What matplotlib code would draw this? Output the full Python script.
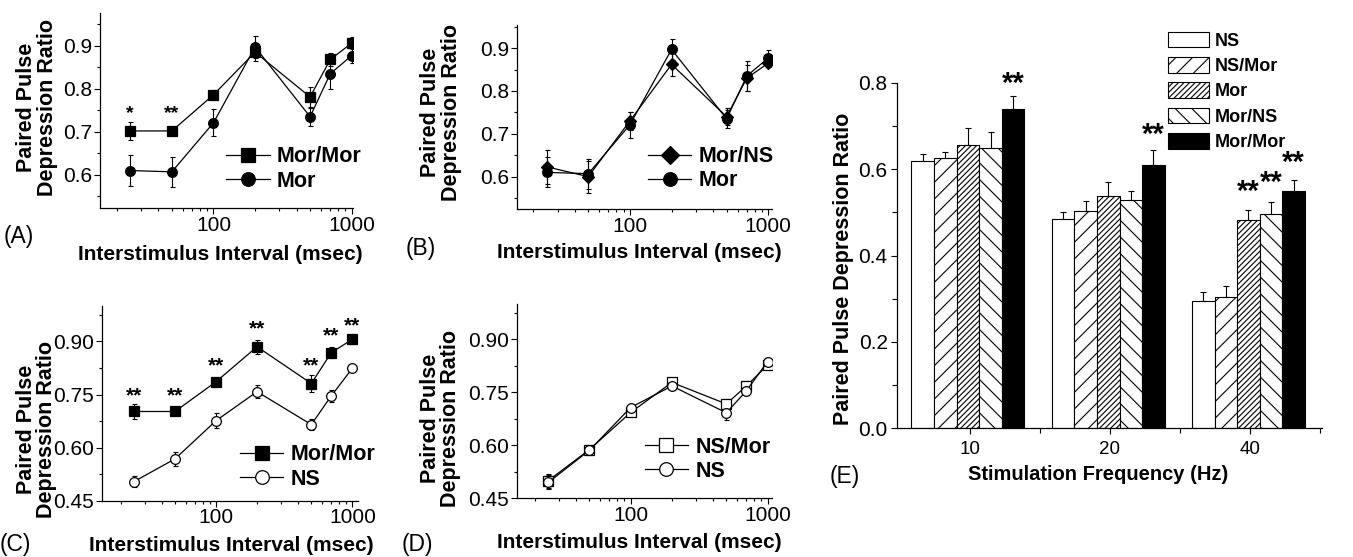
import matplotlib
matplotlib.use('Agg')
import matplotlib.pyplot as plt
import numpy as np
from matplotlib.ticker import MultipleLocator, LogLocator, NullFormatter, FormatStrFormatter, FixedLocator

plt.rcParams['font.family'] = ['Liberation Sans', 'DejaVu Sans']
plt.rcParams['hatch.linewidth'] = 0.8

# ---------------- data ----------------
isi = [25, 50, 100, 200, 500, 700, 1000]

morMor = [0.702, 0.702, 0.786, 0.885, 0.781, 0.868, 0.906]
morMor_err = [0.020, 0.006, 0.012, 0.020, 0.024, 0.015, 0.014]
mor = [0.610, 0.607, 0.721, 0.897, 0.735, 0.835, 0.877]
mor_err = [0.035, 0.035, 0.031, 0.025, 0.021, 0.035, 0.018]
morNS = [0.623, 0.600, 0.730, 0.862, 0.740, 0.830, 0.865]
morNS_err = [0.040, 0.037, 0.022, 0.027, 0.020, 0.030, 0.010]
ns_C = [0.504, 0.568, 0.676, 0.758, 0.665, 0.746, 0.824]
ns_C_err = [0.015, 0.020, 0.022, 0.018, 0.015, 0.018, 0.005]
nsMor_D = [0.500, 0.588, 0.693, 0.778, 0.717, 0.768, 0.827]
nsMor_D_err = [0.020, 0.013, 0.010, 0.012, 0.015, 0.015, 0.006]
ns_D = [0.495, 0.586, 0.707, 0.768, 0.692, 0.754, 0.837]
ns_D_err = [0.020, 0.013, 0.008, 0.012, 0.020, 0.012, 0.006]

sigA_x = [25, 50]
sigA_txt = ['*', '**']
sigA_y = [0.758, 0.758]
sigC_x = [25, 50, 100, 200, 500, 700, 1000]
sigC_txt = ['**'] * 7
sigC_y = [0.764, 0.764, 0.850, 0.954, 0.850, 0.933, 0.962]

freq_labels = ['10', '20', '40']
groups = ['NS', 'NS/Mor', 'Mor', 'Mor/NS', 'Mor/Mor']
E_vals = [
    [0.618, 0.484, 0.294],   # NS
    [0.626, 0.504, 0.304],   # NS/Mor
    [0.655, 0.537, 0.482],   # Mor
    [0.649, 0.528, 0.495],   # Mor/NS
    [0.738, 0.609, 0.549],   # Mor/Mor
]
E_errs = [
    [0.017, 0.016, 0.022],
    [0.014, 0.023, 0.025],
    [0.039, 0.032, 0.023],
    [0.038, 0.022, 0.030],
    [0.032, 0.035, 0.025],
]
sigE_group = [0, 1, 2, 2, 2]
sigE_bar = [4, 4, 2, 3, 4]
sigE_y = [0.818, 0.698, 0.567, 0.587, 0.635]

# ---------------- figure ----------------
W, H = 1353, 557
fig = plt.figure(figsize=(W / 100, H / 100), dpi=100)


def px_axes(left, top, right, bottom):
    return fig.add_axes([left / W, 1 - bottom / H, (right - left) / W, (bottom - top) / H])


TICK_FS = 15
LAB_FS = 15.5
XLAB_FS = 15


def style_line_axes(ax, ylim, major, fmt, xlim):
    ax.set_xscale('log')
    ax.set_xlim(*xlim)
    ax.set_ylim(*ylim)
    for s in ['top', 'right']:
        ax.spines[s].set_visible(False)
    for s in ['left', 'bottom']:
        ax.spines[s].set_linewidth(0.9)
    ax.xaxis.set_major_locator(FixedLocator([100, 1000]))
    ax.set_xticklabels(['100', '1000'])
    ax.xaxis.set_minor_locator(LogLocator(base=10, subs=np.arange(2, 10)))
    ax.xaxis.set_minor_formatter(NullFormatter())
    ax.yaxis.set_major_locator(MultipleLocator(major))
    ax.yaxis.set_minor_locator(MultipleLocator(major / 2))
    ax.yaxis.set_major_formatter(FormatStrFormatter(fmt))
    ax.tick_params(which='major', direction='out', length=4, width=0.8, labelsize=TICK_FS, pad=1.5)
    ax.tick_params(which='minor', direction='out', length=2.5, width=0.8)
    ax.set_xlabel('Interstimulus Interval (msec)', fontsize=XLAB_FS, fontweight='bold', va='center')
    ax.set_ylabel('Paired Pulse\nDepression Ratio', fontsize=LAB_FS, fontweight='bold',
                  va='center', linespacing=0.95)


def draw_series(ax, y, e, marker, mfc, label, ms=7):
    ax.errorbar(isi, y, yerr=e, fmt='none', ecolor='black', elinewidth=0.8,
                capsize=1.8, capthick=0.8, zorder=2)
    ax.plot(isi, y, color='black', lw=0.9, marker=marker, ms=ms, mfc=mfc, mec='black',
            mew=0.9, label=label, zorder=3)


def add_legend(ax, x, y):
    ax.legend(loc='center left', bbox_to_anchor=(x, y), frameon=False,
              prop=dict(weight='bold', size=LAB_FS), handlelength=2.0, handletextpad=0.35,
              labelspacing=0.15, borderpad=0, borderaxespad=0, markerscale=1.4)


def add_sig(ax, xs, ys, txts, fs):
    for xv, yv, t in zip(xs, ys, txts):
        ax.annotate(t, (xv, yv), xytext=(0, -0.57 * fs), textcoords='offset points',
                    ha='center', va='baseline', fontsize=fs, fontweight='bold',
                    annotation_clip=False)


# Panel A
axA = px_axes(100, 13, 353, 208)
draw_series(axA, morMor, morMor_err, 's', 'black', 'Mor/Mor')
draw_series(axA, mor, mor_err, 'o', 'black', 'Mor')
style_line_axes(axA, (0.523, 0.976), 0.1, '%.1f', (15.1, 1022))
add_legend(axA, 0.50, 0.20)
add_sig(axA, sigA_x, sigA_y, sigA_txt, 14)
axA.xaxis.set_label_coords(0.477, -0.241)
axA.yaxis.set_label_coords(-0.249, 0.515)

# Panel B
axB = px_axes(516.7, 25, 771.7, 209)
draw_series(axB, morNS, morNS_err, 'D', 'black', 'Mor/NS', ms=6.5)
draw_series(axB, mor, mor_err, 'o', 'black', 'Mor')
style_line_axes(axB, (0.5245, 0.954), 0.1, '%.1f', (15.2, 1059))
add_legend(axB, 0.515, 0.219)
axB.xaxis.set_label_coords(0.48, -0.239)
axB.yaxis.set_label_coords(-0.297, 0.527)

# Panel C
axC = px_axes(101.7, 306, 358, 500.7)
draw_series(axC, morMor, morMor_err, 's', 'black', 'Mor/Mor')
draw_series(axC, ns_C, ns_C_err, 'o', 'white', 'NS')
style_line_axes(axC, (0.45, 1.0), 0.15, '%.2f', (14.5, 1100))
add_legend(axC, 0.54, 0.173)
add_sig(axC, sigC_x, sigC_y, sigC_txt, 15)
axC.xaxis.set_label_coords(0.507, -0.228)
axC.yaxis.set_label_coords(-0.254, 0.368)

# Panel D
axD = px_axes(516.7, 304, 771.7, 498.3)
draw_series(axD, nsMor_D, nsMor_D_err, 's', 'white', 'NS/Mor')
draw_series(axD, ns_D, ns_D_err, 'o', 'white', 'NS')
style_line_axes(axD, (0.45, 1.0), 0.15, '%.2f', (14.7, 1072))
add_legend(axD, 0.503, 0.201)
axD.xaxis.set_label_coords(0.48, -0.23)
axD.yaxis.set_label_coords(-0.30, 0.413)

# Panel E
axE = px_axes(896.7, 82.7, 1321.7, 428.3)
xg = np.arange(len(freq_labels))
bw = 0.161
hatches = [None, '//', '//////', '\\\\', None]
fcolors = ['white', 'white', 'white', 'white', 'black']
for i, name in enumerate(groups):
    pos = xg + (i - 2) * bw - 0.012
    axE.bar(pos, E_vals[i], bw, color=fcolors[i], edgecolor='black', hatch=hatches[i],
            lw=0.8, label=name, zorder=2)
    axE.errorbar(pos, E_vals[i], yerr=[np.zeros(len(xg)), E_errs[i]], fmt='none',
                 ecolor='black', elinewidth=0.8, capsize=2.5, capthick=0.8, zorder=3,
                 clip_on=False)
for g, b, yv in zip(sigE_group, sigE_bar, sigE_y):
    xv = xg[g] + (b - 2) * bw - 0.012
    axE.annotate('**', (xv, yv), xytext=(0, -0.57 * 21), textcoords='offset points',
                 ha='center', va='baseline', fontsize=21, fontweight='bold',
                 annotation_clip=False)
axE.set_xlim(-0.52, 2.51)
axE.set_ylim(0, 0.8)
for s in ['top', 'right']:
    axE.spines[s].set_visible(False)
for s in ['left', 'bottom']:
    axE.spines[s].set_linewidth(0.9)
axE.set_xticks(xg)
axE.set_xticklabels(freq_labels)
axE.xaxis.set_minor_locator(FixedLocator([0.5, 1.5, 2.5]))
axE.yaxis.set_major_locator(MultipleLocator(0.2))
axE.yaxis.set_minor_locator(MultipleLocator(0.1))
axE.yaxis.set_major_formatter(FormatStrFormatter('%.1f'))
axE.tick_params(which='major', direction='out', length=4.5, width=0.8, labelsize=TICK_FS, pad=2)
axE.tick_params(axis='x', which='major', labelsize=13.5, pad=5)
axE.tick_params(which='minor', direction='out', length=3.5, width=0.8)
axE.set_xlabel('Stimulation Frequency (Hz)', fontsize=14.5, fontweight='bold', va='center')
axE.set_ylabel('Paired Pulse Depression Ratio', fontsize=LAB_FS, fontweight='bold', va='center')
axE.xaxis.set_label_coords(0.474, -0.135)
axE.yaxis.set_label_coords(-0.126, 0.461)
axE.legend(loc='center left', bbox_to_anchor=(0.638, 0.975), frameon=False,
           prop=dict(weight='bold', size=13), handlelength=2.27, handleheight=0.97,
           handletextpad=0.35, labelspacing=0.4, borderpad=0, borderaxespad=0)

# panel letters
for lab, (xp, yp) in zip(['(A)', '(B)', '(C)', '(D)', '(E)'],
                         [(19, 237), (421, 249), (15, 544), (417, 544), (845, 476)]):
    fig.text(xp / W, 1 - yp / H, lab, fontsize=16.5, ha='center', va='center')

fig.savefig('out.png', dpi=100)
